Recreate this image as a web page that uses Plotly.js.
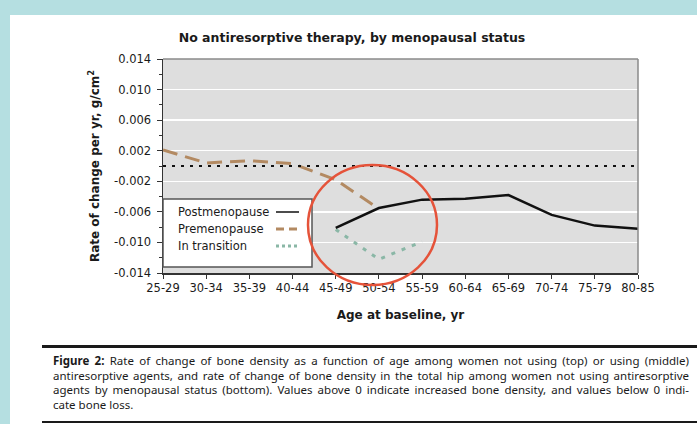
<!DOCTYPE html>
<html>
<head>
<meta charset="utf-8">
<script src="https://cdn.plot.ly/plotly-3.0.1.min.js"></script>
<style>
  html, body { margin: 0; padding: 0; }
  body { width: 697px; height: 424px; background: #b5dfe1; position: relative; overflow: hidden; }
  #panel { position: absolute; left: 10px; top: 15px; right: 0; bottom: 0; background: #ffffff; }
  #chart { position: absolute; left: 0; top: 0; width: 697px; height: 340px; }
  #rule-top { position: absolute; left: 42px; right: 0; top: 345px; height: 3px; background: #1a1a1a; }
  #rule-bottom { position: absolute; left: 42px; right: 0; top: 421px; height: 2px; background: #1a1a1a; }
  #caption { position: absolute; left: 53px; width: 636px; top: 354px;
             font-family: "Noto Sans", "DejaVu Sans Condensed", sans-serif; font-size: 11.5px;
             line-height: 14.6px; color: #1a1a1a; }
  #caption div { white-space: nowrap; text-align: justify; text-align-last: justify; }
  #caption div.last { text-align-last: left; }
</style>
</head>
<body>
<div id="panel"></div>
<div id="chart"></div>
<div id="rule-top"></div>
<div id="caption">
  <div><b>Figure 2:</b> Rate of change of bone density as a function of age among women not using (top) or using (middle)</div>
  <div>antiresorptive agents, and rate of change of bone density in the total hip among women not using antiresorptive</div>
  <div>agents by menopausal status (bottom). Values above 0 indicate increased bone density, and values below 0 indi-</div>
  <div class="last">cate bone loss.</div>
</div>
<div id="rule-bottom"></div>
<script>
// ---- data ----
const categories = ['25-29','30-34','35-39','40-44','45-49','50-54','55-59','60-64','65-69','70-74','75-79','80-85'];
const postmenopause = [null, null, null, null, -0.0081, -0.0055, -0.0044, -0.0043, -0.0038, -0.0064, -0.0078, -0.0082];
const premenopause  = [0.0021, 0.0004, 0.0007, 0.0003, -0.0018, -0.0056, null, null, null, null, null, null];
const inTransition  = [null, null, null, null, -0.0083, -0.0122, -0.0099, null, null, null, null, null];
const yTickVals   = [-0.014, -0.010, -0.006, -0.002, 0.002, 0.006, 0.010, 0.014];
const yTickLabels = ['-0.014', '-0.010', '-0.006', '-0.002', '0.002', '0.006', '0.010', '0.014'];
const seriesNames = ['Postmenopause', 'Premenopause', 'In transition'];

const FONT = '"DejaVu Sans", Verdana, sans-serif';
const colPost = '#111111', colPre = '#b38a62', colTrans = '#8ab7a6';

const traces = [
  { x: categories, y: premenopause, type: 'scatter', mode: 'lines', name: seriesNames[1],
    line: { color: colPre, width: 3, dash: '15px,8px' }, showlegend: false, hoverinfo: 'skip' },
  { x: categories, y: inTransition, type: 'scatter', mode: 'lines', name: seriesNames[2],
    line: { color: colTrans, width: 3, dash: '4px,7px' }, showlegend: false, hoverinfo: 'skip' },
  { x: categories, y: postmenopause, type: 'scatter', mode: 'lines', name: seriesNames[0],
    line: { color: colPost, width: 2.5 }, showlegend: false, hoverinfo: 'skip' }
];

// plot area geometry helpers (paper fractions)
const L = 163, R = 638, T = 59, B = 273;
const px = v => (v - L) / (R - L);
const py = v => (B - v) / (B - T);

const legendRows = [212, 229, 246];
const legendStyles = [
  { color: colPost, width: 1.5 },
  { color: colPre, width: 3, dash: '8px,5px' },
  { color: colTrans, width: 3, dash: '3px,3px' }
];

const shapes = [
  // dotted zero line
  { type: 'line', xref: 'paper', yref: 'y', x0: 0, x1: 1, y0: 0, y1: 0,
    line: { color: '#111', width: 2, dash: '3px,6px' }, layer: 'above' },
  // top and right plot border
  { type: 'line', xref: 'paper', yref: 'paper', x0: 0, x1: 1, y0: 1, y1: 1, line: { color: '#8a8a8a', width: 1.5 } },
  { type: 'line', xref: 'paper', yref: 'paper', x0: 1, x1: 1, y0: 0, y1: 1, line: { color: '#8a8a8a', width: 1.5 } },
  // legend box
  { type: 'rect', xref: 'paper', yref: 'paper', x0: px(163), x1: px(312), y0: py(267), y1: py(199),
    fillcolor: '#ffffff', line: { color: '#555', width: 1.5 }, layer: 'above' }
];
legendRows.forEach((r, i) => {
  shapes.push({ type: 'line', xref: 'paper', yref: 'paper', x0: px(276), x1: px(299), y0: py(r), y1: py(r),
                line: legendStyles[i], layer: 'above' });
});
// highlight circle
shapes.push({ type: 'circle', xref: 'paper', yref: 'paper', x0: px(308), x1: px(437), y0: py(285), y1: py(165),
              line: { color: '#e5533a', width: 2.5 }, layer: 'above' });

const annotations = seriesNames.map((n, i) => ({
  xref: 'paper', yref: 'paper', x: px(176), y: py(legendRows[i]), xanchor: 'left', yanchor: 'middle',
  text: n, showarrow: false, font: { family: FONT, size: 11.5, color: '#1a1a1a' }
}));

const layout = {
  width: 697, height: 340,
  margin: { l: L, r: 697 - R, t: T, b: 340 - B, pad: 0 },
  paper_bgcolor: 'rgba(0,0,0,0)',
  plot_bgcolor: '#dedede',
  title: { text: '<b>No antiresorptive therapy, by menopausal status</b>', x: 352 / 697, xanchor: 'center',
           y: 1 - 38 / 340, yanchor: 'middle', font: { family: FONT, size: 12.5, color: '#1a1a1a' } },
  xaxis: {
    type: 'category', categoryorder: 'array', categoryarray: categories, range: [0, 11],
    showgrid: false, zeroline: false, showline: true, linecolor: '#333', linewidth: 1.5,
    ticks: 'outside', ticklen: 4, tickcolor: '#333', tickwidth: 1,
    tickfont: { family: FONT, size: 11.5, color: '#1a1a1a' },
    title: { text: '<b>Age at baseline, yr</b>', font: { family: FONT, size: 12, color: '#1a1a1a' }, standoff: 16 },
    fixedrange: true
  },
  yaxis: {
    range: [-0.014, 0.014], tickmode: 'array', tickvals: yTickVals, ticktext: yTickLabels,
    showgrid: true, gridcolor: '#ffffff', gridwidth: 1.5, zeroline: false,
    showline: true, linecolor: '#333', linewidth: 1.5,
    ticks: 'outside', ticklen: 5, tickcolor: '#333', tickwidth: 1, ticklabelstandoff: 3,
    minor: { tickmode: 'linear', tick0: -0.014, dtick: 0.002, ticks: 'outside', ticklen: 3, tickcolor: '#333', showgrid: false },
    tickfont: { family: FONT, size: 11.5, color: '#1a1a1a' },
    title: { text: '<b>Rate of change per yr, g/cm<sup>2</sup></b>', font: { family: FONT, size: 12, color: '#1a1a1a' }, standoff: 12 },
    fixedrange: true
  },
  shapes: shapes,
  annotations: annotations,
  showlegend: false
};

Plotly.newPlot('chart', traces, layout, { displayModeBar: false, staticPlot: true });
</script>
</body>
</html>
